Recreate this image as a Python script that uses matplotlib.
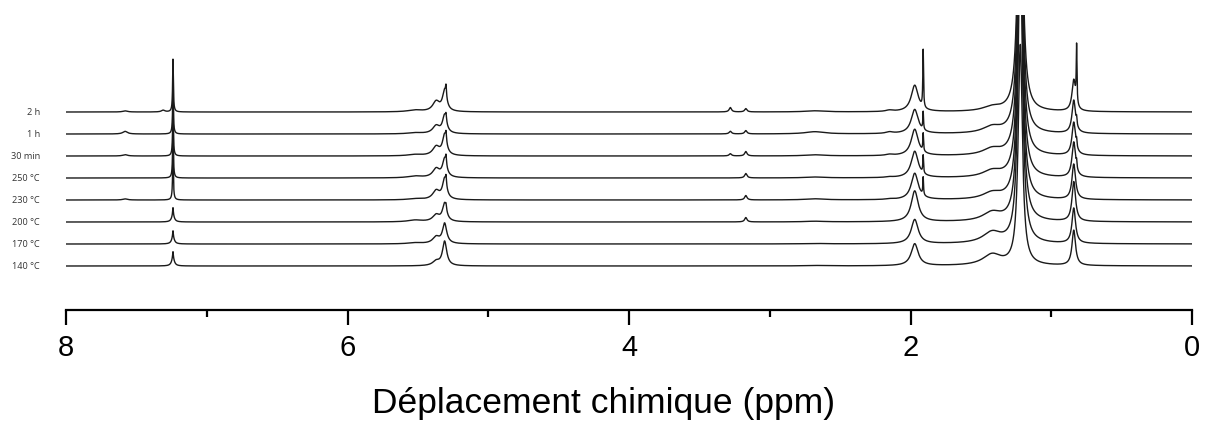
import numpy as np
import matplotlib
matplotlib.use("Agg")
import matplotlib.pyplot as plt

# spectra, bottom to top
trace_labels = ["140 °C", "170 °C", "200 °C", "230 °C", "250 °C", "30 min", "1 h", "2 h"]

# peak table: centre (ppm) and half width (ppm)
peak_ppm = [7.58, 7.31, 7.24, 7.24, 5.52, 5.37, 5.31, 5.30, 3.28, 3.17,
            2.68, 2.15, 1.97, 1.91, 1.42, 1.22, 0.84, 0.82]
peak_hw = [0.02, 0.015, 0.003, 0.012, 0.06, 0.03, 0.018, 0.004, 0.01, 0.01,
           0.08, 0.03, 0.03, 0.003, 0.08, 0.018, 0.015, 0.003]

# peak heights per spectrum (in units of the stacking offset)
peak_heights = [
    # 140 °C
    [0, 0, 0.30, 0.35, 0, 0.20, 1.10, 0, 0, 0, 0.02, 0, 1.00, 0, 0.50, 10, 1.6, 0],
    # 170 °C
    [0, 0, 0.30, 0.30, 0.05, 0.30, 0.90, 0, 0, 0, 0.02, 0, 1.10, 0, 0.50, 14, 1.6, 0],
    # 200 °C
    [0, 0, 0.35, 0.30, 0.08, 0.30, 0.80, 0.2, 0, 0.20, 0.03, 0, 1.40, 0, 0.40, 15, 1.8, 0],
    # 230 °C
    [0.05, 0, 2.2, 0.10, 0.05, 0.40, 0.90, 0.4, 0, 0.20, 0.05, 0.03, 1.20, 0.8, 0.30, 15, 1.6, 0],
    # 250 °C
    [0, 0, 2.4, 0.10, 0.08, 0.40, 0.80, 0.4, 0, 0.20, 0.04, 0.03, 1.20, 0.8, 0.30, 15, 1.6, 0.3],
    # 30 min
    [0.06, 0, 2.3, 0.10, 0.06, 0.40, 0.90, 0.4, 0.10, 0.20, 0.05, 0.05, 1.20, 0.8, 0.30, 15, 1.5, 0.3],
    # 1 h
    [0.12, 0, 2.2, 0.10, 0.05, 0.35, 0.80, 0.3, 0.12, 0.15, 0.10, 0.07, 1.10, 0.8, 0.30, 15, 1.5, 0.3],
    # 2 h
    [0.05, 0.08, 2.3, 0.10, 0.08, 0.45, 0.90, 0.5, 0.20, 0.15, 0.05, 0.06, 1.20, 2.6, 0.20, 15, 1.4, 2.6],
]

ppm = np.linspace(8, 0, 16001)


def spectrum(heights):
    y = np.zeros_like(ppm)
    for c, w, h in zip(peak_ppm, peak_hw, heights):
        y += h * w**2 / ((ppm - c)**2 + w**2)
    return y


fig = plt.figure(figsize=(12.05, 4.32), dpi=100)
ax = fig.add_axes([66 / 1205, 1 - 310 / 432, 1126 / 1205, 295 / 432])

for i, (name, heights) in enumerate(zip(trace_labels, peak_heights)):
    ax.plot(ppm, spectrum(heights) + i, color="#1a1a1a", lw=1.0)
    ax.text(8.185, i, name, ha="right", va="center", fontsize=6.6,
            family="Open Sans", color="#333333", clip_on=False)

ax.set_xlim(8, 0)
ax.set_ylim(-2.0, 11.41)

for s in ["top", "left", "right"]:
    ax.spines[s].set_visible(False)
ax.spines["bottom"].set_linewidth(1.6)
ax.set_yticks([])
ax.set_xticks([8, 6, 4, 2, 0])
ax.set_xticks([7, 5, 3, 1], minor=True)
ax.tick_params(axis="x", which="major", length=11, width=1.6, pad=6,
               labelsize=21)
ax.tick_params(axis="x", which="minor", length=5, width=1.6)
for lab in ax.get_xticklabels():
    lab.set_family("Liberation Sans")

ax.set_xlabel("Déplacement chimique (ppm)", fontsize=25.5,
              family="Liberation Sans")
ax.xaxis.set_label_coords(0.477, -0.26)

fig.savefig("out.png", dpi=100)
